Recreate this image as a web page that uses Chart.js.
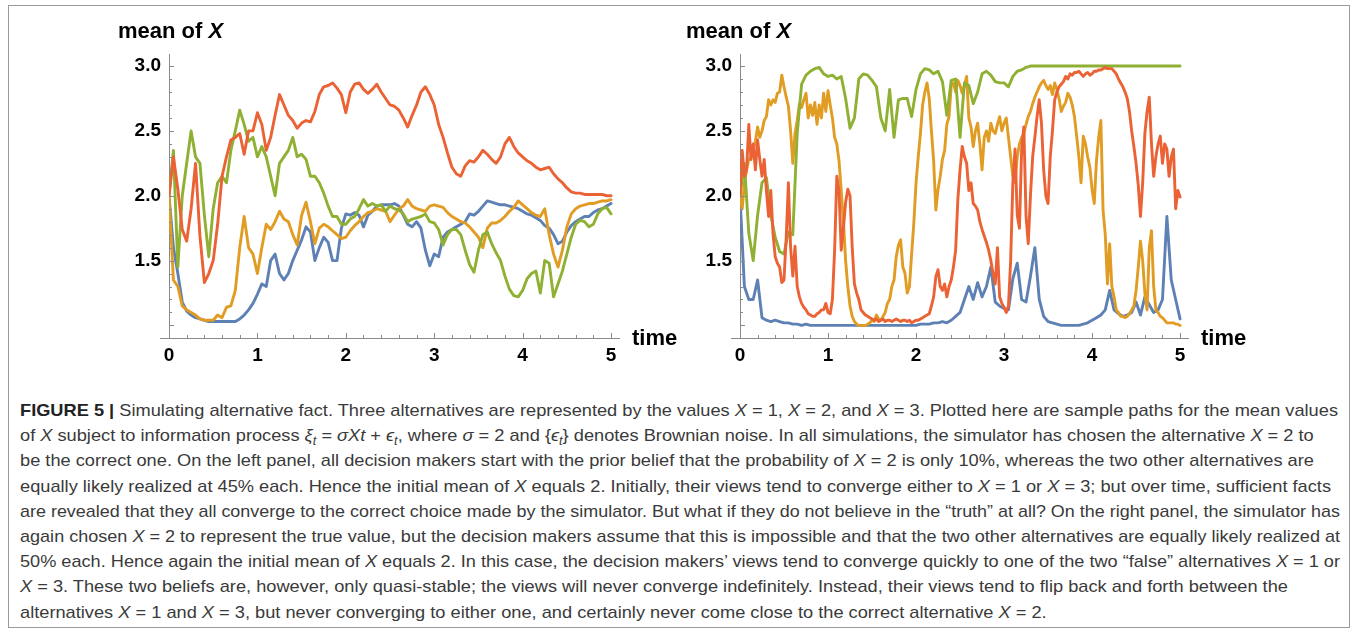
<!DOCTYPE html>
<html>
<head>
<meta charset="utf-8">
<script src="https://cdn.jsdelivr.net/npm/chart.js@4.4.0/dist/chart.umd.min.js"></script>
<style>
    body { margin: 0; background: #fff; width: 1358px; height: 633px; position: relative; overflow: hidden;
           font-family: "Liberation Sans", Arial, sans-serif; }
    #frame { position: absolute; left: 8px; top: 5px; width: 1342px; height: 623px; border: 1px solid #9a9a9a; box-sizing: border-box; }
    canvas { position: absolute; top: 0; }
    .title { position: absolute; top: 20px; font-size: 22px; line-height: 22px; font-weight: bold; color: #000; white-space: nowrap; }
    .xname { position: absolute; top: 327px; font-size: 22px; line-height: 22px; font-weight: bold; color: #000; }
    #caption { position: absolute; left: 20px; top: 398px; font-size: 17px; line-height: 25.2px; color: #3a3a3a; white-space: nowrap; }
    #caption div { height: 25.2px; }
    #caption span { display: inline-block; transform-origin: 0 0; }
    #caption b { color: #222; }
    #caption sub { font-size: 0.7em; line-height: 0; vertical-align: baseline; position: relative; top: 0.3em; }
</style>
</head>
<body>
<div id="frame"></div>

<canvas id="chartLeft" width="600" height="380" style="left:90px"></canvas>
<canvas id="chartRight" width="600" height="380" style="left:660px"></canvas>

<div class="title" style="left:118px">mean of <i>X</i></div>
<div class="title" style="left:686px">mean of <i>X</i></div>
<div class="xname" style="left:632px">time</div>
<div class="xname" style="left:1201px">time</div>

<div id="caption">
    <div><span><b>FIGURE 5 |</b> Simulating alternative fact. Three alternatives are represented by the values <i>X</i> = 1, <i>X</i> = 2, and <i>X</i> = 3. Plotted here are sample paths for the mean values</span></div>
    <div><span>of <i>X</i> subject to information process <i>ξ<sub>t</sub></i> = <i>σXt</i> + <i>ϵ<sub>t</sub></i>, where <i>σ</i> = 2 and {<i>ϵ<sub>t</sub></i>} denotes Brownian noise. In all simulations, the simulator has chosen the alternative <i>X</i> = 2 to</span></div>
    <div><span>be the correct one. On the left panel, all decision makers start with the prior belief that the probability of <i>X</i> = 2 is only 10%, whereas the two other alternatives are</span></div>
    <div><span>equally likely realized at 45% each. Hence the initial mean of <i>X</i> equals 2. Initially, their views tend to converge either to <i>X</i> = 1 or <i>X</i> = 3; but over time, sufficient facts</span></div>
    <div><span>are revealed that they all converge to the correct choice made by the simulator. But what if they do not believe in the “truth” at all? On the right panel, the simulator has</span></div>
    <div><span>again chosen <i>X</i> = 2 to represent the true value, but the decision makers assume that this is impossible and that the two other alternatives are equally likely realized at</span></div>
    <div><span>50% each. Hence again the initial mean of <i>X</i> equals 2. In this case, the decision makers’ views tend to converge quickly to one of the two “false” alternatives <i>X</i> = 1 or</span></div>
    <div><span><i>X</i> = 3. These two beliefs are, however, only quasi-stable; the views will never converge indefinitely. Instead, their views tend to flip back and forth between the</span></div>
    <div><span>alternatives <i>X</i> = 1 and <i>X</i> = 3, but never converging to either one, and certainly never come close to the correct alternative <i>X</i> = 2.</span></div>
</div>

<script>
// sample times for the smoother paths
const times = [
    0, 0.05, 0.1, 0.15, 0.2, 0.25, 0.3, 0.35, 0.4, 0.45,
    0.5, 0.55, 0.6, 0.65, 0.7, 0.75, 0.8, 0.85, 0.9, 0.95,
    1, 1.05, 1.1, 1.15, 1.2, 1.25, 1.3, 1.35, 1.4, 1.45,
    1.5, 1.55, 1.6, 1.65, 1.7, 1.75, 1.8, 1.85, 1.9, 1.95,
    2, 2.05, 2.1, 2.15, 2.2, 2.25, 2.3, 2.35, 2.4, 2.45,
    2.5, 2.55, 2.6, 2.65, 2.7, 2.75, 2.8, 2.85, 2.9, 2.95,
    3, 3.05, 3.1, 3.15, 3.2, 3.25, 3.3, 3.35, 3.4, 3.45,
    3.5, 3.55, 3.6, 3.65, 3.7, 3.75, 3.8, 3.85, 3.9, 3.95,
    4, 4.05, 4.1, 4.15, 4.2, 4.25, 4.3, 4.35, 4.4, 4.45,
    4.5, 4.55, 4.6, 4.65, 4.7, 4.75, 4.8, 4.85, 4.9, 4.95,
    5
];

// finer sample times for the very jumpy paths on the right
const fineTimes = [
    0, 0.025, 0.05, 0.075, 0.1, 0.125, 0.15, 0.175, 0.2, 0.225,
    0.25, 0.275, 0.3, 0.325, 0.35, 0.375, 0.4, 0.425, 0.45, 0.475,
    0.5, 0.525, 0.55, 0.575, 0.6, 0.625, 0.65, 0.675, 0.7, 0.725,
    0.75, 0.775, 0.8, 0.825, 0.85, 0.875, 0.9, 0.925, 0.95, 0.975,
    1, 1.025, 1.05, 1.075, 1.1, 1.125, 1.15, 1.175, 1.2, 1.225,
    1.25, 1.275, 1.3, 1.325, 1.35, 1.375, 1.4, 1.425, 1.45, 1.475,
    1.5, 1.525, 1.55, 1.575, 1.6, 1.625, 1.65, 1.675, 1.7, 1.725,
    1.75, 1.775, 1.8, 1.825, 1.85, 1.875, 1.9, 1.925, 1.95, 1.975,
    2, 2.025, 2.05, 2.075, 2.1, 2.125, 2.15, 2.175, 2.2, 2.225,
    2.25, 2.275, 2.3, 2.325, 2.35, 2.375, 2.4, 2.425, 2.45, 2.475,
    2.5, 2.525, 2.55, 2.575, 2.6, 2.625, 2.65, 2.675, 2.7, 2.725,
    2.75, 2.775, 2.8, 2.825, 2.85, 2.875, 2.9, 2.925, 2.95, 2.975,
    3, 3.025, 3.05, 3.075, 3.1, 3.125, 3.15, 3.175, 3.2, 3.225,
    3.25, 3.275, 3.3, 3.325, 3.35, 3.375, 3.4, 3.425, 3.45, 3.475,
    3.5, 3.525, 3.55, 3.575, 3.6, 3.625, 3.65, 3.675, 3.7, 3.725,
    3.75, 3.775, 3.8, 3.825, 3.85, 3.875, 3.9, 3.925, 3.95, 3.975,
    4, 4.025, 4.05, 4.075, 4.1, 4.125, 4.15, 4.175, 4.2, 4.225,
    4.25, 4.275, 4.3, 4.325, 4.35, 4.375, 4.4, 4.425, 4.45, 4.475,
    4.5, 4.525, 4.55, 4.575, 4.6, 4.625, 4.65, 4.675, 4.7, 4.725,
    4.75, 4.775, 4.8, 4.825, 4.85, 4.875, 4.9, 4.925, 4.95, 4.975,
    5
];

// left panel (prior 45/10/45)
const leftBlue = [
    2.0, 1.6, 1.4, 1.18, 1.11, 1.08, 1.06, 1.05, 1.04, 1.03,
    1.03, 1.03, 1.03, 1.03, 1.03, 1.03, 1.05, 1.08, 1.12, 1.17,
    1.24, 1.32, 1.3, 1.5, 1.55, 1.4, 1.35, 1.4, 1.5, 1.58,
    1.66, 1.76, 1.72, 1.5, 1.6, 1.68, 1.64, 1.5, 1.5, 1.75,
    1.86, 1.85, 1.87, 1.85, 1.76, 1.85, 1.88, 1.92, 1.93, 1.93,
    1.93, 1.94, 1.92, 1.85, 1.78, 1.76, 1.8, 1.75, 1.58, 1.46,
    1.55, 1.53, 1.68, 1.72, 1.74, 1.76, 1.78, 1.8, 1.86, 1.85,
    1.88, 1.92, 1.96, 1.95, 1.94, 1.93, 1.93, 1.92, 1.91, 1.9,
    1.88, 1.86, 1.85, 1.83, 1.81, 1.77, 1.75, 1.7, 1.63, 1.65,
    1.72, 1.77, 1.8, 1.82, 1.84, 1.84, 1.87, 1.89, 1.9, 1.92,
    1.94
];
const leftOrange = [
    2.0, 1.35, 1.3, 1.15, 1.12, 1.1, 1.08, 1.05, 1.04, 1.04,
    1.04, 1.08, 1.06, 1.14, 1.15, 1.27, 1.6, 1.84, 1.6, 1.55,
    1.4, 1.6, 1.78, 1.74, 1.8, 1.88, 1.82, 1.8, 1.7, 1.62,
    1.85, 1.95, 1.8, 1.63, 1.75, 1.78, 1.76, 1.73, 1.7, 1.67,
    1.68, 1.73, 1.77, 1.8, 1.84, 1.87, 1.88, 1.9, 1.89, 1.88,
    1.8, 1.85, 1.9, 1.92, 1.97, 1.92, 1.9, 1.89, 1.88, 1.92,
    1.93, 1.92, 1.91, 1.87, 1.84, 1.82, 1.8, 1.79, 1.76, 1.72,
    1.68, 1.6, 1.75, 1.79, 1.79, 1.81, 1.84, 1.88, 1.91, 1.96,
    1.93, 1.9, 1.87, 1.85, 1.84, 1.9, 1.7, 1.55, 1.45, 1.58,
    1.76, 1.86, 1.9, 1.92, 1.93, 1.94, 1.94, 1.95, 1.96, 1.96,
    1.97
];
const leftGreen = [
    2.0, 2.35, 1.45, 2.0, 2.25, 2.5, 2.3, 2.25, 1.85, 1.53,
    1.9, 2.1, 2.15, 2.1, 2.35, 2.5, 2.66, 2.55, 2.42, 2.45,
    2.3, 2.38, 2.3, 2.15, 2.0, 2.25, 2.3, 2.35, 2.45, 2.3,
    2.32, 2.28, 2.15, 2.15, 2.1, 2.02, 1.92, 1.84, 1.84, 1.78,
    1.78, 1.82, 1.84, 1.9, 1.97, 1.92, 1.94, 1.92, 1.93, 1.88,
    1.92, 1.9, 1.89, 1.86, 1.8, 1.82, 1.83, 1.84, 1.86, 1.8,
    1.79, 1.74, 1.62, 1.7, 1.74, 1.74, 1.7, 1.58, 1.47, 1.41,
    1.58, 1.7, 1.72, 1.63, 1.56, 1.5, 1.38, 1.28, 1.23, 1.22,
    1.27, 1.36, 1.4, 1.42, 1.25, 1.5, 1.48, 1.22, 1.32, 1.42,
    1.55, 1.68, 1.78, 1.81, 1.8, 1.76, 1.78, 1.86, 1.9, 1.91,
    1.86
];
const leftRed = [
    2.0, 2.3, 2.05, 1.74, 1.65, 1.9, 2.25, 1.69, 1.33, 1.4,
    1.5, 1.78, 2.15, 2.3, 2.43, 2.45, 2.48, 2.32, 2.5, 2.5,
    2.64, 2.55, 2.35, 2.45, 2.62, 2.78, 2.7, 2.62, 2.58, 2.52,
    2.56, 2.58, 2.57, 2.65, 2.78, 2.84, 2.85, 2.87, 2.83, 2.78,
    2.64, 2.8, 2.86, 2.87, 2.82, 2.79, 2.82, 2.86, 2.8, 2.75,
    2.7, 2.69, 2.66, 2.6, 2.53, 2.62, 2.7, 2.8, 2.84, 2.78,
    2.7, 2.55, 2.45, 2.33, 2.22, 2.17, 2.15, 2.23, 2.27, 2.26,
    2.3, 2.35, 2.32, 2.28, 2.25, 2.3, 2.4, 2.45, 2.38, 2.33,
    2.3, 2.27, 2.25, 2.22, 2.2, 2.21, 2.22, 2.17, 2.13, 2.1,
    2.06, 2.03, 2.02, 2.02, 2.01, 2.01, 2.01, 2.01, 2.01, 2.0,
    2.0
];

// right panel (prior 50/0/50); blue and green on `times`, orange and red on `fineTimes`
const rightBlue = [
    2.0, 1.3, 1.2, 1.2, 1.35, 1.06, 1.04, 1.03, 1.04, 1.03,
    1.02, 1.02, 1.01, 1.01, 1.0, 1.01, 1.0, 1.0, 1.0, 1.0,
    1.0, 1.0, 1.0, 1.0, 1.0, 1.0, 1.0, 1.0, 1.0, 1.0,
    1.0, 1.0, 1.0, 1.0, 1.0, 1.0, 1.0, 1.0, 1.0, 1.0,
    1.0, 1.01, 1.01, 1.01, 1.02, 1.02, 1.03, 1.02, 1.04, 1.07,
    1.1, 1.2, 1.3, 1.2, 1.33, 1.22, 1.3, 1.45, 1.18, 1.15,
    1.13, 1.12, 1.36, 1.48, 1.2, 1.18, 1.38, 1.6, 1.2, 1.07,
    1.03, 1.02, 1.01, 1.0, 1.0, 1.0, 1.0, 1.0, 1.01, 1.02,
    1.04, 1.06, 1.08, 1.12, 1.27, 1.12, 1.09, 1.07, 1.08, 1.1,
    1.18, 1.08, 1.22, 1.16, 1.1, 1.12, 1.2, 1.84, 1.35, 1.2,
    1.05
];
const rightGreen = [
    2.0, 2.25, 1.71, 1.5, 1.85, 2.1, 2.14, 1.85, 1.68, 1.57,
    1.55, 1.72, 1.7, 2.48, 2.86, 2.93, 2.96, 2.98, 2.99, 2.94,
    2.92, 2.93, 2.9, 2.92, 2.75, 2.52, 2.6, 2.9, 2.94, 2.93,
    2.89, 2.84, 2.6, 2.5, 2.82, 2.45, 2.74, 2.75, 2.75, 2.61,
    2.82, 2.94, 2.98, 2.97, 2.94, 2.96, 2.88, 2.62, 2.89, 2.9,
    2.45, 2.87, 2.85, 2.71, 2.8, 2.94, 2.96, 2.93, 2.88, 2.87,
    2.87, 2.84, 2.92, 2.96, 2.97, 2.99, 3.0, 3.0, 3.0, 3.0,
    3.0, 3.0, 3.0, 3.0, 3.0, 3.0, 3.0, 3.0, 3.0, 3.0,
    3.0, 3.0, 3.0, 3.0, 3.0, 3.0, 3.0, 3.0, 3.0, 3.0,
    3.0, 3.0, 3.0, 3.0, 3.0, 3.0, 3.0, 3.0, 3.0, 3.0,
    3.0
];
const rightOrange = [
    2.0, 1.9, 2.1, 2.2, 2.28, 2.3, 2.35, 2.42, 2.53, 2.45,
    2.5, 2.58, 2.61, 2.74, 2.7, 2.74, 2.72, 2.79, 2.8, 2.93,
    2.84, 2.76, 2.69, 2.5, 2.25, 2.48, 2.58, 2.71, 2.68, 2.74,
    2.79, 2.6, 2.7, 2.62, 2.72, 2.55, 2.7, 2.6, 2.79, 2.65,
    2.81, 2.7, 2.6, 2.45, 2.4, 2.27, 2.04, 1.8, 1.5, 1.3,
    1.15, 1.07, 1.03, 1.01, 1.0, 1.0, 1.0, 1.0, 1.01, 1.02,
    1.04, 1.03, 1.08, 1.05, 1.04, 1.07, 1.1, 1.17, 1.2, 1.3,
    1.35, 1.53, 1.62, 1.66, 1.45, 1.4, 1.25, 1.3, 1.55, 1.79,
    2.1, 2.3, 2.48, 2.7, 2.8, 2.87, 2.75, 2.5, 2.27, 1.89,
    2.05, 2.15, 2.28, 2.35, 2.55, 2.61, 2.85, 2.87, 2.8, 2.89,
    2.85, 2.79, 2.85, 2.92, 2.6, 2.53, 2.38, 2.5, 2.56, 2.4,
    2.2, 2.45, 2.5, 2.42, 2.56, 2.5, 2.48, 2.55, 2.61, 2.5,
    2.56, 2.6, 2.45, 2.3, 2.15, 2.1, 2.3, 2.4, 2.45, 2.48,
    2.55, 2.61, 2.65, 2.71, 2.76, 2.8, 2.84, 2.87, 2.89, 2.85,
    2.82, 2.85, 2.78, 2.87, 2.82, 2.75, 2.65, 2.69, 2.72, 2.79,
    2.76, 2.7, 2.61, 2.46, 2.3, 2.1, 2.46, 2.4, 2.3, 2.22,
    2.05, 1.94, 2.27, 2.45, 2.58, 1.89, 1.7, 1.32, 1.63, 1.3,
    1.22, 1.12, 1.1, 1.07, 1.07, 1.06, 1.07, 1.09, 1.12, 1.15,
    1.27, 1.45, 1.65, 1.5, 1.25, 1.12, 1.6, 1.73, 1.3, 1.12,
    1.1, 1.07, 1.06, 1.04, 1.02, 1.02, 1.02, 1.02, 1.01, 1.01,
    1.0
];
const rightRed = [
    2.0, 2.35, 2.15, 2.2, 2.55, 2.28, 2.4, 2.2, 2.43, 2.28,
    2.15, 2.28, 2.04, 1.84, 2.04, 1.71, 1.53, 1.48, 1.45, 1.33,
    1.35, 1.68, 2.1, 1.6, 1.38, 1.61, 1.3, 1.22, 1.17, 1.14,
    1.12, 1.09, 1.08, 1.07, 1.07, 1.09, 1.1, 1.12, 1.12, 1.17,
    1.1, 1.09, 1.2, 1.58, 2.15, 2.04, 1.58, 1.75, 1.95, 2.05,
    2.0, 1.6, 1.32, 1.25, 1.2, 1.12, 1.1, 1.08, 1.07, 1.06,
    1.05, 1.04, 1.05, 1.03, 1.04, 1.05, 1.03, 1.04, 1.04, 1.03,
    1.04, 1.05, 1.04, 1.03, 1.04, 1.04, 1.03, 1.04, 1.02, 1.03,
    1.04, 1.04, 1.05, 1.06, 1.07, 1.08, 1.09, 1.15, 1.22, 1.375,
    1.43, 1.3, 1.27, 1.32, 1.22, 1.3, 1.35, 1.45, 1.58, 1.97,
    2.2, 2.38, 2.3, 2.25, 2.04, 2.1, 1.94, 1.92, 1.89, 1.8,
    1.74, 1.69, 1.64, 1.58, 1.5, 1.4, 1.32, 1.6, 1.22, 1.17,
    1.14, 1.1, 1.15, 1.5, 2.1, 2.36, 1.85, 1.75, 2.36, 2.53,
    1.84, 1.63, 2.0, 2.3, 2.45, 2.61, 2.74, 2.56, 2.2, 2.0,
    1.94, 2.3, 2.5, 2.74, 2.8, 2.84, 2.86, 2.88, 2.92, 2.9,
    2.94, 2.93, 2.95, 2.95, 2.96, 2.94, 2.92, 2.94, 2.95, 2.93,
    2.94, 2.96, 2.96, 2.97, 2.97, 2.98, 2.99, 2.98, 2.98, 2.98,
    2.96, 2.94, 2.9, 2.87, 2.84, 2.8, 2.75, 2.65, 2.5, 2.38,
    2.25, 2.08, 1.84, 2.1, 2.48, 2.65, 2.76, 2.4, 2.15, 2.3,
    2.4, 2.46, 2.25, 2.4, 2.36, 2.15, 2.3, 2.36, 1.9, 2.04,
    1.99
];

const xTickLabels = [0, 1, 2, 3, 4, 5];
const yTickLabels = [1.5, 2.0, 2.5, 3.0];

const colors = { blue: '#5e81b5', orange: '#e19c24', green: '#8fb032', red: '#eb6235' };
const axisColor = '#8a8a8a';
const tickFont = { family: '"Liberation Sans", Arial, sans-serif', size: 19, weight: 'bold' };

// Mathematica style ticks, drawn inward from the axes
const innerTicks = {
    id: 'innerTicks',
    afterDraw(chart) {
        const ctx = chart.ctx;
        const xs = chart.scales.x, ys = chart.scales.y;
        ctx.save();
        ctx.strokeStyle = axisColor;
        ctx.lineWidth = 1;
        // the horizontal axis pokes out a little to the left of the vertical one
        ctx.beginPath();
        ctx.moveTo(xs.left - 9, ys.bottom + 0.5);
        ctx.lineTo(xs.left, ys.bottom + 0.5);
        ctx.stroke();
        for (let i = 0; i <= 25; i++) {
            const px = Math.round(xs.getPixelForValue(i / 5)) + 0.5;
            const len = i % 5 === 0 ? 5 : 3;
            ctx.beginPath();
            ctx.moveTo(px, ys.bottom);
            ctx.lineTo(px, ys.bottom - len);
            ctx.stroke();
        }
        for (let i = 10; i <= 30; i++) {
            const py = Math.round(ys.getPixelForValue(i / 10)) + 0.5;
            const len = i % 5 === 0 ? 5 : 3;
            ctx.beginPath();
            ctx.moveTo(xs.left, py);
            ctx.lineTo(xs.left + len, py);
            ctx.stroke();
        }
        ctx.restore();
    }
};

function series(t, values, color) {
    return {
        data: t.map(function (x, i) { return { x: x, y: values[i] }; }),
        borderColor: color,
        borderWidth: 2.9,
        pointRadius: 0,
        tension: 0,
        borderJoinStyle: 'round',
        borderCapStyle: 'round'
    };
}

function panel(canvas, datasets, yWidth, rightPad) {
    const ctx = document.getElementById(canvas);
    return new Chart(ctx, {
        type: 'line',
        data: { datasets: datasets },
        options: {
            responsive: false,
            animation: false,
            devicePixelRatio: 1,
            layout: { padding: { left: 0, top: 54, right: rightPad, bottom: 0 } },
            plugins: { legend: { display: false }, tooltip: { enabled: false } },
            scales: {
                x: {
                    type: 'linear', min: 0, max: 5.09,
                    grid: { display: false, drawTicks: false },
                    border: { display: true, color: axisColor, width: 1 },
                    ticks: { color: '#000', font: tickFont, padding: 6, maxRotation: 0, autoSkip: false },
                    afterBuildTicks: function (s) { s.ticks = xTickLabels.map(function (v) { return { value: v }; }); },
                    afterFit: function (s) { s.height = 42; }
                },
                y: {
                    type: 'linear', min: 0.903, max: 3.093,
                    grid: { display: false, drawTicks: false },
                    border: { display: true, color: axisColor, width: 1 },
                    ticks: {
                        color: '#000', font: tickFont, padding: 8,
                        callback: function (v) { return v.toFixed(1); }
                    },
                    afterBuildTicks: function (s) { s.ticks = yTickLabels.map(function (v) { return { value: v }; }); },
                    afterFit: function (s) { s.width = yWidth; }
                }
            }
        },
        plugins: [innerTicks]
    });
}

// first dataset is painted last, so red ends up on top
panel('chartLeft', [
    series(times, leftRed, colors.red),
    series(times, leftGreen, colors.green),
    series(times, leftOrange, colors.orange),
    series(times, leftBlue, colors.blue)
], 79, 71);

panel('chartRight', [
    series(fineTimes, rightRed, colors.red),
    series(times, rightGreen, colors.green),
    series(fineTimes, rightOrange, colors.orange),
    series(times, rightBlue, colors.blue)
], 80, 72);

// squeeze the caption lines to the original's width, never past the right margin
const spans = document.querySelectorAll('#caption span');
const k = 1318 / spans[0].getBoundingClientRect().width;
spans.forEach(function (s) {
    const w = s.getBoundingClientRect().width;
    s.style.transform = 'scaleX(' + Math.min(k, 1320 / w) + ')';
});
</script>
</body>
</html>
